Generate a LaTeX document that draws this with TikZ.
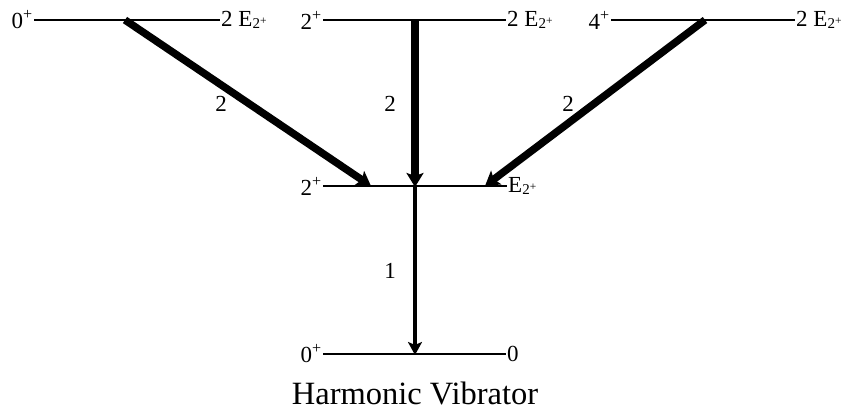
\documentclass[tikz,border=0pt]{standalone}
\usepackage{fontspec}
\setmainfont{Liberation Serif}
\usetikzlibrary{arrows.meta}
\newcommand{\Etwo}{E\raisebox{-0.12em}{\fontsize{15}{15}\selectfont 2\raisebox{0.3em}{\fontsize{11.5}{11.5}\selectfont +}}}
\begin{document}
\begin{tikzpicture}[x=1pt,y=-1pt,
  level/.style={line width=2.6pt},
  lab/.style={inner sep=1pt,font=\fontsize{23}{23}\selectfont},
  trans/.style={line width=7.5pt,-{Stealth[length=14pt,width=17pt,inset=3pt]}},
  trans1/.style={line width=4.5pt,-{Stealth[length=13pt,width=14pt,inset=3pt]}}]
\useasboundingbox (0,0) rectangle (850,411);
% levels
\coordinate (a1) at (34,20);  \coordinate (a2) at (220,20);
\coordinate (b1) at (323,20); \coordinate (b2) at (506,20);
\coordinate (c1) at (611,20); \coordinate (c2) at (795,20);
\coordinate (m1) at (323,186); \coordinate (m2) at (507,186);
\coordinate (g1) at (323,354); \coordinate (g2) at (506,354);
\draw[level] (a1) -- (a2);
\draw[level] (b1) -- (b2);
\draw[level] (c1) -- (c2);
\draw[level] (m1) -- (m2);
\draw[level] (g1) -- (g2);
% level labels
\node[lab,anchor=east] (la) at (a1) {0\textsuperscript{+}};
\node[lab,anchor=west] (ra) at (a2) {2 \Etwo};
\node[lab,anchor=east] (lb) at (b1) {2\textsuperscript{+}};
\node[lab,anchor=west] (rb) at (b2) {2 \Etwo};
\node[lab,anchor=east] (lc) at (c1) {4\textsuperscript{+}};
\node[lab,anchor=west] (rc) at (c2) {2 \Etwo};
\node[lab,anchor=east] (lm) at (m1) {2\textsuperscript{+}};
\node[lab,anchor=west] (rm) at (m2) {\Etwo};
\node[lab,anchor=east] (lg) at (g1) {0\textsuperscript{+}};
\node[lab,anchor=west] (rg) at (g2) {0};
% transitions
\coordinate (sa) at (125,20);  \coordinate (ea) at (371,186);
\coordinate (sb) at (415,20);  \coordinate (eb) at (415,187);
\coordinate (sc) at (705,20);  \coordinate (ec) at (485,186);
\coordinate (sm) at (415,186); \coordinate (em) at (415,355);
\draw[trans] (sa) -- (ea);
\draw[trans] (sb) -- (eb);
\draw[trans] (sc) -- (ec);
\draw[trans1] (sm) -- (em);
\node[lab] (ta) at (221,104) {2};
\node[lab] (tb) at (390,104) {2};
\node[lab] (tc) at (568,104) {2};
\node[lab] (tm) at (390,271) {1};
% title
\node[font=\fontsize{32.5}{32.5}\selectfont] (title) at (415,393) {Harmonic Vibrator};
\end{tikzpicture}
\end{document}
